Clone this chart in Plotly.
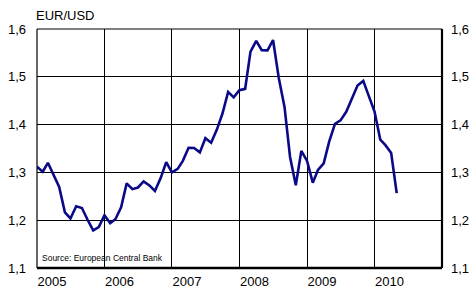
import plotly.graph_objects as go

months = [f"{y}-{m:02d}-01" for y in range(2005, 2011) for m in range(1, 13)][:65]
eur_usd = [
    1.3119, 1.3014, 1.3201, 1.2938, 1.2694, 1.2165, 1.2037, 1.2292, 1.2256, 1.2015, 1.1786, 1.1856,
    1.2103, 1.1938, 1.2020, 1.2271, 1.2770, 1.2650, 1.2684, 1.2811, 1.2727, 1.2611, 1.2881, 1.3213,
    1.2999, 1.3074, 1.3242, 1.3516, 1.3511, 1.3419, 1.3716, 1.3622, 1.3896, 1.4227, 1.4684, 1.4570,
    1.4718, 1.4748, 1.5527, 1.5751, 1.5557, 1.5553, 1.5770, 1.4975, 1.4370, 1.3322, 1.2732, 1.3449,
    1.3239, 1.2785, 1.3050, 1.3190, 1.3650, 1.4016, 1.4088, 1.4268, 1.4562, 1.4816, 1.4914, 1.4614,
    1.4272, 1.3686, 1.3569, 1.3406, 1.2565,
]
year_ticks = [f"{y}-01-01" for y in range(2005, 2011)]
year_labels = [str(y) for y in range(2005, 2011)]
y_ticks = [1.1, 1.2, 1.3, 1.4, 1.5, 1.6]
y_labels = ["1,1", "1,2", "1,3", "1,4", "1,5", "1,6"]

font = dict(family="Liberation Sans, Arial, sans-serif", size=13, color="#000000")

fig = go.Figure()
fig.add_trace(go.Scatter(x=months, y=eur_usd, mode="lines",
                         line=dict(color="#0a0a88", width=2.6), hoverinfo="skip"))
fig.add_trace(go.Scatter(x=months, y=eur_usd, mode="lines", yaxis="y2",
                         line=dict(color="rgba(0,0,0,0)", width=0), hoverinfo="skip"))

fig.update_layout(
    width=473, height=295,
    margin=dict(l=37, r=31, t=29, b=27, autoexpand=False),
    paper_bgcolor="white", plot_bgcolor="white",
    showlegend=False, font=font,
    xaxis=dict(
        range=["2005-01-01", "2011-01-01"], tickmode="array",
        tickvals=year_ticks, ticktext=year_labels,
        showgrid=True, gridcolor="#000000", gridwidth=1,
        showline=False, zeroline=False, ticks="", automargin=False,
        ticklabelshift=15, ticklabelstandoff=4,
        tickfont=font,
    ),
    yaxis=dict(
        range=[1.1, 1.6], tickmode="array", tickvals=y_ticks, ticktext=y_labels,
        showgrid=True, gridcolor="#000000", gridwidth=1, automargin=False,
        showline=False, zeroline=False, ticks="", ticklabelstandoff=10,
        tickfont=font,
    ),
    yaxis2=dict(
        range=[1.1, 1.6], tickmode="array", tickvals=y_ticks, ticktext=y_labels,
        overlaying="y", side="right", showgrid=False, zeroline=False, automargin=False,
        showline=False, ticks="", ticklabelstandoff=8, tickfont=font,
    ),
    shapes=[
        dict(type="line", xref="paper", yref="paper", x0=0, x1=1, y0=1, y1=1,
             line=dict(color="#000000", width=1.2)),
        dict(type="line", xref="paper", yref="paper", x0=0, x1=0, y0=0, y1=1,
             line=dict(color="#000000", width=1.2)),
        dict(type="line", xref="paper", yref="paper", x0=1, x1=1, y0=0, y1=1,
             line=dict(color="#000000", width=2.2)),
        dict(type="line", xref="paper", yref="paper", x0=0, x1=1, y0=0, y1=0,
             line=dict(color="#000000", width=2.4)),
    ],
    annotations=[
        dict(text="EUR/USD", xref="paper", yref="paper", x=0, y=1, xanchor="left",
             yanchor="bottom", yshift=4, xshift=-3, showarrow=False, font=font),
        dict(text="Source: European Central Bank", xref="paper", yref="paper",
             x=0, y=0, xanchor="left", yanchor="bottom", xshift=3, yshift=3,
             showarrow=False, font=dict(family=font["family"], size=8.5, color="#000000")),
    ],
)

fig.write_html("out.html", config={"displayModeBar": False},
               post_script="document.body.style.margin='0';")
